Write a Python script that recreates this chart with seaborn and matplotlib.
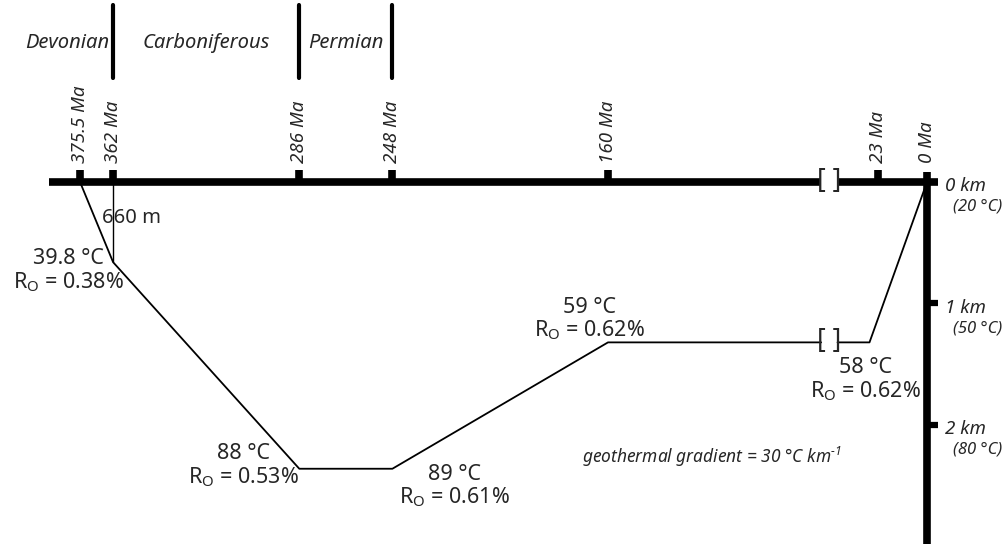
import numpy as np
import pandas as pd
import seaborn as sns
from matplotlib import pyplot as plt


sns.set_style("white")
plt.rcParams['font.family'] = ['Noto Sans', 'DejaVu Sans']
plt.rcParams['mathtext.default'] = 'regular'


# burial path of the sample: age (Ma) vs burial depth (km)
path_age = [375.5, 362, 286, 248, 160, 73, 42, 27, 0]
path_depth = [0, 0.66, 2.36, 2.36, 1.32, 1.32, 1.32, 1.32, 0]
path_segment = [0, 0, 0, 0, 0, 0, 1, 1, 1]

# time axis
tick_ages = [375.5, 362, 286, 248, 160, 23, 0]
tick_labels = ['375.5 Ma', '362 Ma', '286 Ma', '248 Ma', '160 Ma', '23 Ma', '0 Ma']
break_ages = [73, 42]
axis_start = 388

# geological periods
period_bounds = [362, 286, 248]
period_names = ['Devonian', 'Carboniferous', 'Permian']

# depth axis
depth_ticks = [0, 1, 2]
depth_temps = [20, 50, 80]

# labelled points on the path
vertex_idx = [1, 2, 3, 4, 7]
vertex_temps = ['39.8', '88', '89', '59', '58']
vertex_ro = ['0.38', '0.53', '0.61', '0.62', '0.62']
gradient = 30


df = pd.DataFrame({'age': path_age, 'depth': path_depth, 'segment': path_segment})

# broken time axis (pre-break and post-break parts have their own rate)
scale_age = [-100, 44, 70, 600]
scale_pos = [-100 * 2.13, 44 * 2.13, 70 * 2.45 - 73, 600 * 2.45 - 73]
fwd = lambda a: np.interp(a, scale_age, scale_pos)
inv = lambda u: np.interp(u, scale_pos, scale_age)

fig = plt.figure(figsize=(10.07, 5.44), dpi=100)
ax = fig.add_axes([0, 0, 1, 1])
ax.set_xscale('function', functions=(fwd, inv))

sns.lineplot(data=df, x='age', y='depth', units='segment', estimator=None, sort=False,
             color='black', linewidth=1.3, legend=False, ax=ax)

# 660 m marker
ax.vlines(path_age[1], 0, path_depth[1], color='black', lw=1.0)
ax.annotate('%d m' % round(path_depth[1] * 1000), xy=(path_age[1], path_depth[1] / 2),
            xytext=(-8, 3), textcoords='offset points', ha='left', va='center', fontsize=14.5)

# axes drawn by hand
ax.hlines(0, axis_start, break_ages[0], color='black', lw=5.5)
ax.hlines(0, break_ages[1], -5, color='black', lw=5.5)
ax.vlines(0, -0.08, 3.0, color='black', lw=5.5)
ax.vlines(tick_ages[:-1], -0.1, 0, color='black', lw=5.5)
ax.hlines(depth_ticks[1:], 0, -5, color='black', lw=4.5)

# break brackets
mid_break = inv((fwd(break_ages[0]) + fwd(break_ages[1])) / 2)
for d in [0, path_depth[5]]:
    ax.annotate('[ ]', xy=(mid_break, d), xytext=(0, 1), textcoords='offset points',
                ha='center', va='center', fontsize=19, fontweight='light')

for age, lab in zip(tick_ages, tick_labels):
    ax.annotate(lab, xy=(age, 0), xytext=(0, 14), textcoords='offset points',
                rotation=90, ha='center', va='bottom', style='italic', fontsize=13.5)

# periods
trans = ax.get_xaxis_transform()
for b in period_bounds:
    ax.axvline(b, 0.857, 0.991, color='black', lw=3)
ax.annotate(period_names[0], xy=(period_bounds[0], 0.921), xycoords=trans, xytext=(-3, 0),
            textcoords='offset points', ha='right', va='center', style='italic', fontsize=14.5)
for i in range(1, 3):
    mid = inv((fwd(period_bounds[i - 1]) + fwd(period_bounds[i])) / 2)
    ax.text(mid, 0.921, period_names[i], transform=trans, ha='center', va='center',
            style='italic', fontsize=14.5)

# depth labels
for d, t in zip(depth_ticks, depth_temps):
    ax.annotate('%d km' % d, xy=(0, d), xytext=(13, -3), textcoords='offset points',
                ha='left', va='center', style='italic', fontsize=13.5)
    ax.annotate('(%d °C)' % t, xy=(0, d), xytext=(19, -18), textcoords='offset points',
                ha='left', va='center', style='italic', fontsize=12)

# temperature / vitrinite reflectance labels
label_offsets = [(-32, -6.5), (-40, 2), (45, -12.8), (-13, 16.6), (-3, -27)]
for i, t, ro, off in zip(vertex_idx, vertex_temps, vertex_ro, label_offsets):
    ax.annotate('%s °C\nR$_{O}$ = %s%%' % (t, ro), xy=(path_age[i], path_depth[i]),
                xytext=off, textcoords='offset points', ha='center', va='center',
                multialignment='center', linespacing=1.05, fontsize=15.5)

ax.text(0.707, 0.16, 'geothermal gradient = %d °C km$^{-1}$' % gradient, transform=ax.transAxes,
        ha='center', va='center', style='italic', fontsize=12.5)

ax.set_xlim(inv(927), inv(-80))
ax.set_ylim(362 / 121.5, -182 / 121.5)
ax.axis('off')

plt.savefig('out.png', dpi=100)
